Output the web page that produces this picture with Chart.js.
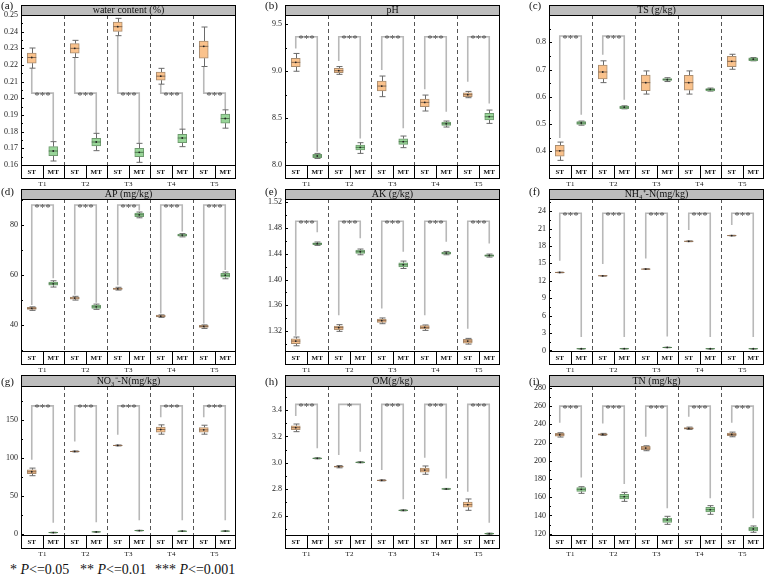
<!DOCTYPE html>
<html><head><meta charset="utf-8">
<script src="https://cdn.jsdelivr.net/npm/chart.js@4.4.1/dist/chart.umd.min.js"></script>
<style>
body{margin:0;width:767px;height:578px;background:#fff;position:relative;overflow:hidden;font-family:"Liberation Serif",serif;}
canvas{position:absolute;left:0;top:0;pointer-events:none;}
#legend{position:absolute;left:0;top:562px;font-size:14px;color:#111;font-family:"Liberation Serif",serif;}
#legend span{position:absolute;white-space:nowrap;top:0;}
</style></head><body>
<div id="legend"><span style="left:10px">* <i>P</i>&lt;=0.05</span><span style="left:80px">** <i>P</i>&lt;=0.01</span><span style="left:155px">*** <i>P</i>&lt;=0.001</span></div>
<script>
// ---------- categories ----------
const groups = ['T1','T2','T3','T4','T5'];
const cells = ['ST','MT'];

// ---------- (a) water content: [min, q1, median, q3, max] ----------
const wcST = [[0.2181,0.2211,0.2245,0.2271,0.2302],[0.2245,0.2271,0.2300,0.2328,0.2348],[0.2376,0.2402,0.2430,0.2458,0.2480],[0.2085,0.2109,0.2133,0.2157,0.2180],[0.2191,0.2241,0.2312,0.2344,0.2428]];
const wcMT = [[0.1624,0.1656,0.1684,0.1710,0.1740],[0.1686,0.1714,0.1738,0.1760,0.1790],[0.1616,0.1650,0.1676,0.1700,0.1730],[0.1710,0.1734,0.1762,0.1784,0.1815],[0.1821,0.1851,0.1879,0.1905,0.1931]];
const wcBracket = [0.2031,0.2031,0.2031,0.2031,0.2031];
const wcLegST = [0.2181,0.2245,0.2376,0.2085,0.2191];
const wcLegMT = [0.1740,0.1790,0.1730,0.1815,0.1931];
const wcSig = ['***','***','***','***','***'];
const wcTicks = ['0.16','0.17','0.18','0.19','0.20','0.21','0.22','0.23','0.24','0.25'];

// ---------- (b) pH ----------
const phST = [[9.000,9.050,9.095,9.137,9.190],[8.967,8.985,9.006,9.030,9.050],[8.729,8.789,8.842,8.896,8.949],[8.576,8.622,8.668,8.704,8.746],[8.718,8.729,8.750,8.771,8.785]];
const phMT = [[8.070,8.078,8.096,8.114,8.124],[8.124,8.160,8.188,8.213,8.238],[8.185,8.220,8.249,8.280,8.309],[8.405,8.423,8.440,8.458,8.469],[8.444,8.480,8.515,8.551,8.586]];
const phBracket = [9.368,9.368,9.368,9.368,9.368];
const phLegST = [9.244,9.109,9.013,8.807,8.889];
const phLegMT = [8.142,8.284,8.391,8.569,8.657];
const phSig = ['***','***','***','***','***'];
const phTicks = ['8.0','8.5','9.0','9.5'];

// ---------- (c) TS ----------
const tsST = [[0.367,0.382,0.402,0.422,0.434],[0.652,0.666,0.691,0.716,0.732],[0.610,0.623,0.652,0.680,0.695],[0.610,0.624,0.652,0.679,0.695],[0.701,0.711,0.730,0.748,0.756]];
const tsMT = [[0.496,0.499,0.504,0.509,0.511],[0.556,0.557,0.562,0.566,0.567],[0.656,0.660,0.663,0.667,0.670],[0.621,0.622,0.627,0.630,0.632],[0.732,0.733,0.738,0.743,0.744]];
const tsBracket = [0.823,0.823,null,null,null];
const tsLegST = [0.449,0.754,null,null,null];
const tsLegMT = [0.534,0.589,null,null,null];
const tsSig = ['***','***','','',''];
const tsTicks = ['0.4','0.5','0.6','0.7','0.8'];

// ---------- (d) AP ----------
const apST = [[45.9,46.3,46.7,47.1,47.3],[50.0,50.4,50.8,51.2,51.5],[54.0,54.3,54.5,54.8,55.1],[43.1,43.3,43.6,44.0,44.1],[38.7,39.1,39.5,39.9,40.1]];
const apMT = [[55.2,55.9,56.5,57.2,57.7],[46.3,46.7,47.3,48.0,48.4],[82.8,83.3,84.0,84.7,85.1],[75.2,75.5,75.9,76.3,76.5],[58.5,59.1,59.9,60.7,61.2]];
const apBracket = [87.9,87.9,87.9,87.9,87.9];
const apLegST = [48.0,52.1,55.9,44.7,40.7];
const apLegMT = [58.7,48.9,85.7,77.3,62.0];
const apSig = ['***','***','***','***','***'];
const apTicks = ['40','60','80'];

// ---------- (e) AK ----------
const akST = [[1.2971,1.3003,1.3044,1.3080,1.3107],[1.3195,1.3221,1.3252,1.3278,1.3299],[1.3314,1.3335,1.3361,1.3387,1.3403],[1.3210,1.3231,1.3257,1.3283,1.3294],[1.2997,1.3013,1.3044,1.3071,1.3086]];
const akMT = [[1.4530,1.4540,1.4556,1.4571,1.4582],[1.4384,1.4405,1.4431,1.4457,1.4473],[1.4171,1.4197,1.4229,1.4260,1.4286],[1.4384,1.4395,1.4410,1.4426,1.4436],[1.4348,1.4358,1.4374,1.4384,1.4395]];
const akBracket = [1.4904,1.4904,1.4904,1.4904,1.4904];
const akLegST = [1.3125,1.3444,1.3548,1.3444,1.3236];
const akLegMT = [1.4732,1.4639,1.4431,1.4587,1.4561];
const akSig = ['***','***','***','***','***'];
const akTicks = ['1.32','1.36','1.40','1.44','1.48','1.52'];

// ---------- (f) NH4+-N ----------
const nhST = [[13.39,13.42,13.44,13.46,13.49],[12.81,12.84,12.86,12.88,12.91],[13.97,14.00,14.02,14.04,14.07],[18.75,18.78,18.81,18.84,18.87],[19.74,19.77,19.79,19.81,19.84]];
const nhMT = [[0.25,0.27,0.29,0.31,0.33],[0.26,0.28,0.30,0.32,0.34],[0.47,0.49,0.51,0.53,0.55],[0.25,0.27,0.29,0.31,0.33],[0.25,0.27,0.29,0.31,0.33]];
const nhBracket = [23.65,23.65,23.65,23.65,23.65];
const nhLegST = [15.46,14.88,15.86,20.77,21.63];
const nhLegMT = [2.30,2.30,2.42,2.30,2.30];
const nhSig = ['***','***','***','***','***'];
const nhTicks = ['0','3','6','9','12','15','18','21','24'];

// ---------- (g) NO3--N ----------
const noST = [[77.0,79.6,82.2,84.8,87.0],[108.3,108.6,108.9,109.2,109.5],[116.2,116.5,116.8,117.1,117.4],[131.6,134.3,137.8,140.8,143.9],[131.6,134.3,137.3,140.4,143.4]];
const noMT = [[1.8,2.0,2.2,2.4,2.6],[2.7,2.9,3.1,3.3,3.5],[4.4,4.6,4.8,5.0,5.2],[3.6,3.8,4.0,4.2,4.4],[3.7,3.9,4.1,4.3,4.5]];
const noBracket = [168.8,168.8,168.8,168.8,168.8];
const noLegST = [98.0,122.0,130.8,154.0,154.0];
const noLegMT = [15.0,15.8,18.4,18.4,18.4];
const noSig = ['***','***','***','***','***'];
const noTicks = ['0','50','100','150'];

// ---------- (h) OM ----------
const omST = [[3.236,3.251,3.266,3.281,3.294],[2.962,2.967,2.971,2.975,2.979],[2.863,2.865,2.867,2.869,2.871],[2.913,2.930,2.945,2.961,2.976],[2.640,2.663,2.683,2.703,2.726]];
const omMT = [[3.030,3.032,3.034,3.036,3.038],[3.000,3.002,3.004,3.006,3.008],[2.636,2.638,2.640,2.642,2.644],[2.798,2.800,2.802,2.804,2.806],[2.459,2.461,2.463,2.465,2.467]];
const omBracket = [3.443,3.443,3.443,3.443,3.443];
const omLegST = [3.355,3.059,2.945,3.039,2.781];
const omLegMT = [3.110,3.084,2.723,2.882,2.546];
const omSig = ['***','*','***','***','***'];
const omTicks = ['2.6','2.8','3.0','3.2','3.4'];

// ---------- (i) TN ----------
const tnST = [[226.0,227.0,228.5,230.0,230.7],[227.8,228.1,228.9,229.6,230.0],[211.0,212.0,213.9,215.7,216.4],[234.3,234.7,235.4,236.5,236.9],[226.3,227.4,228.9,230.3,231.4]];
const tnMT = [[164.2,166.4,168.6,170.4,171.5],[155.4,158.0,160.5,163.1,165.3],[130.2,132.4,135.0,137.2,139.0],[141.2,143.7,146.3,148.9,150.7],[121.5,122.9,125.1,127.3,128.4]];
const tnBracket = [259.9,259.9,259.9,259.9,259.9];
const tnLegST = [241.6,240.9,226.3,248.2,241.6];
const tnLegMT = [181.7,174.4,147.8,158.7,136.8];
const tnSig = ['***','***','***','***','***'];
const tnTicks = ['120','140','160','180','200','220','240','260','280'];

// ---------- panels ----------
const panels = [
  {tag:'(a)', title:'water content (%)', st:wcST, mt:wcMT, br:wcBracket, legST:wcLegST, legMT:wcLegMT, sig:wcSig, ticks:wcTicks, min:0.16, max:0.25},
  {tag:'(b)', title:'pH', st:phST, mt:phMT, br:phBracket, legST:phLegST, legMT:phLegMT, sig:phSig, ticks:phTicks, min:8.0, max:9.6},
  {tag:'(c)', title:'TS (g/kg)', st:tsST, mt:tsMT, br:tsBracket, legST:tsLegST, legMT:tsLegMT, sig:tsSig, ticks:tsTicks, min:0.35, max:0.9},
  {tag:'(d)', title:'AP (mg/kg)', st:apST, mt:apMT, br:apBracket, legST:apLegST, legMT:apLegMT, sig:apSig, ticks:apTicks, min:29.7, max:90.3},
  {tag:'(e)', title:'AK (g/kg)', st:akST, mt:akMT, br:akBracket, legST:akLegST, legMT:akLegMT, sig:akSig, ticks:akTicks, min:1.289, max:1.525},
  {tag:'(f)', title:'NH\u2084\u207A-N(mg/kg)', st:nhST, mt:nhMT, br:nhBracket, legST:nhLegST, legMT:nhLegMT, sig:nhSig, ticks:nhTicks, min:-0.1, max:26.1},
  {tag:'(g)', title:'NO\u2083\u207B-N(mg/kg)', st:noST, mt:noMT, br:noBracket, legST:noLegST, legMT:noLegMT, sig:noSig, ticks:noTicks, min:-1, max:195},
  {tag:'(h)', title:'OM(g/kg)', st:omST, mt:omMT, br:omBracket, legST:omLegST, legMT:omLegMT, sig:omSig, ticks:omTicks, min:2.453, max:3.582},
  {tag:'(i)', title:'TN (mg/kg)', st:tnST, mt:tnMT, br:tnBracket, legST:tnLegST, legMT:tnLegMT, sig:tnSig, ticks:tnTicks, min:118.5, max:282}
];

// ---------- layout (styling only) ----------
const colLeft = [21, 285, 549];
const plotW = 215;
const rowTop = [15, 199, 386];
const rowBottom = [165, 351, 535];
const titleTop = [5, 189, 375];
const tagY = [6, 192, 382];
const YW = 20;
const SERIF = '"Liberation Serif", "Times New Roman", serif';
const ST_FILL = '#FAC28C', ST_EDGE = '#A88C70';
const MT_FILL = '#98D598', MT_EDGE = '#6F9A6F';

function panelPlugin(p, row) {
  return {
    id: 'boxextras',
    beforeDatasetsDraw(chart) {
      const ctx = chart.ctx, xs = chart.scales.x, ys = chart.scales.y, a = chart.chartArea;
      ctx.save();
      // dashed group separators
      ctx.strokeStyle = '#555'; ctx.lineWidth = 1; ctx.setLineDash([4, 3]);
      for (let k = 1; k < groups.length; k++) {
        const px = Math.round(xs.getPixelForValue(2 * k - 0.5)) + 0.5;
        ctx.beginPath(); ctx.moveTo(px, a.top); ctx.lineTo(px, a.bottom); ctx.stroke();
      }
      ctx.setLineDash([]);
      // significance brackets
      ctx.strokeStyle = '#B8B8B8'; ctx.lineWidth = 1.6;
      groups.forEach((g, gi) => {
        if (p.br[gi] == null) return;
        const x1 = xs.getPixelForValue(2 * gi), x2 = xs.getPixelForValue(2 * gi + 1);
        const yb = ys.getPixelForValue(p.br[gi]);
        ctx.beginPath();
        ctx.moveTo(x1, ys.getPixelForValue(p.legST[gi]));
        ctx.lineTo(x1, yb); ctx.lineTo(x2, yb);
        ctx.lineTo(x2, ys.getPixelForValue(p.legMT[gi]));
        ctx.stroke();
      });
      // whiskers
      ctx.strokeStyle = '#6a6a6a'; ctx.lineWidth = 1;
      [p.st, p.mt].forEach((ser, si) => {
        ser.forEach((s, gi) => {
          const cx = Math.round(xs.getPixelForValue(2 * gi + si)) + 0.5;
          const yMin = ys.getPixelForValue(s[0]), yQ1 = ys.getPixelForValue(s[1]);
          const yQ3 = ys.getPixelForValue(s[3]), yMax = ys.getPixelForValue(s[4]);
          ctx.beginPath();
          ctx.moveTo(cx, yMax); ctx.lineTo(cx, yQ3);
          ctx.moveTo(cx, yQ1); ctx.lineTo(cx, yMin);
          ctx.moveTo(cx - 3, yMax); ctx.lineTo(cx + 3, yMax);
          ctx.moveTo(cx - 3, yMin); ctx.lineTo(cx + 3, yMin);
          ctx.stroke();
        });
      });
      ctx.restore();
    },
    afterDatasetsDraw(chart) {
      const ctx = chart.ctx, xs = chart.scales.x, ys = chart.scales.y, a = chart.chartArea;
      ctx.save();
      // medians and mean dots
      [p.st, p.mt].forEach((ser, si) => {
        ser.forEach((s, gi) => {
          const cx = xs.getPixelForValue(2 * gi + si);
          const ym = ys.getPixelForValue(s[2]);
          ctx.strokeStyle = si === 0 ? '#8a6a50' : '#4f7a4f'; ctx.lineWidth = 1;
          ctx.beginPath(); ctx.moveTo(cx - 4.5, ym); ctx.lineTo(cx + 4.5, ym); ctx.stroke();
          ctx.fillStyle = '#222';
          ctx.beginPath(); ctx.arc(cx, ym, 0.9, 0, Math.PI * 2); ctx.fill();
        });
      });
      // significance stars
      ctx.fillStyle = '#4a4a4a'; ctx.font = '11px ' + SERIF; ctx.textAlign = 'center'; ctx.textBaseline = 'alphabetic';
      groups.forEach((g, gi) => {
        if (p.br[gi] == null || !p.sig[gi]) return;
        const xm = xs.getPixelForValue(2 * gi + 0.5);
        ctx.fillText(p.sig[gi], xm, ys.getPixelForValue(p.br[gi]) + 5.5);
      });
      ctx.textBaseline = 'middle';
      // frame
      ctx.strokeStyle = '#000'; ctx.lineWidth = 1;
      ctx.strokeRect(Math.round(a.left) + 0.5, Math.round(a.top) + 0.5, Math.round(a.right - a.left) - 1, Math.round(a.bottom - a.top));
      // inward ticks (major + minor)
      const tv = p.ticks.map(Number);
      const step = tv[1] - tv[0];
      ctx.beginPath();
      tv.forEach(v => { const py = Math.round(ys.getPixelForValue(v)) + 0.5; ctx.moveTo(a.left, py); ctx.lineTo(a.left + 3, py); });
      for (let v = tv[0] - step / 2; v <= p.max + 1e-9; v += step) {
        if (v < p.min) continue;
        const py = Math.round(ys.getPixelForValue(v)) + 0.5; ctx.moveTo(a.left, py); ctx.lineTo(a.left + 2, py);
      }
      ctx.stroke();
      // title bar
      const tt = titleTop[row];
      ctx.fillStyle = '#BDBDBD';
      ctx.fillRect(a.left, tt, a.right - a.left, a.top - tt);
      ctx.strokeRect(Math.round(a.left) + 0.5, tt + 0.5, Math.round(a.right - a.left) - 1, Math.round(a.top - tt));
      ctx.fillStyle = '#111'; ctx.font = '10px ' + SERIF; ctx.textAlign = 'center'; ctx.textBaseline = 'middle';
      ctx.fillText(p.title, (a.left + a.right) / 2, (tt + a.top) / 2 + 0.5);
      // panel tag
      ctx.font = '11px ' + SERIF; ctx.textAlign = 'left';
      ctx.fillText(p.tag, a.left - 20, tagY[row]);
      // strip with ST / MT
      const sb = a.bottom + 13.5;
      ctx.strokeRect(Math.round(a.left) + 0.5, Math.round(a.bottom) + 0.5, Math.round(a.right - a.left) - 1, 13);
      ctx.beginPath();
      for (let i = 0; i < 9; i++) {
        const px = Math.round(xs.getPixelForValue(i + 0.5)) + 0.5;
        ctx.moveTo(px, a.bottom); ctx.lineTo(px, sb);
      }
      ctx.stroke();
      ctx.font = 'bold 7px ' + SERIF; ctx.textAlign = 'center';
      for (let i = 0; i < 10; i++) ctx.fillText(cells[i % 2], xs.getPixelForValue(i), a.bottom + 7.2);
      ctx.font = '7px ' + SERIF;
      groups.forEach((g, gi) => ctx.fillText(g, xs.getPixelForValue(2 * gi + 0.5), a.bottom + 19));
      ctx.restore();
    }
  };
}

panels.forEach((p, idx) => {
  const col = idx % 3, row = Math.floor(idx / 3);
  const L = colLeft[col], T = rowTop[row], B = rowBottom[row];
  const canvas = document.createElement('canvas');
  canvas.width = 767; canvas.height = 578;
  canvas.style.width = '767px'; canvas.style.height = '578px';
  document.body.appendChild(canvas);
  const labels = [];
  groups.forEach(g => cells.forEach(c => labels.push(g + ' ' + c)));
  const stData = labels.map((_, i) => i % 2 === 0 ? [p.st[i >> 1][1], p.st[i >> 1][3]] : null);
  const mtData = labels.map((_, i) => i % 2 === 1 ? [p.mt[i >> 1][1], p.mt[i >> 1][3]] : null);
  const tickVals = p.ticks.map(Number);
  new Chart(canvas, {
    type: 'bar',
    data: {
      labels,
      datasets: [
        {label: 'ST', data: stData, backgroundColor: ST_FILL, borderColor: ST_EDGE, borderWidth: 1, borderSkipped: false, barThickness: 9, grouped: false},
        {label: 'MT', data: mtData, backgroundColor: MT_FILL, borderColor: MT_EDGE, borderWidth: 1, borderSkipped: false, barThickness: 9, grouped: false}
      ]
    },
    options: {
      responsive: false, animation: false, devicePixelRatio: 1,
      layout: {padding: {left: L - YW, right: 767 - (L + plotW), top: T, bottom: 578 - B}},
      plugins: {legend: {display: false}, tooltip: {enabled: false}, title: {display: false}},
      scales: {
        x: {display: false},
        y: {
          min: p.min, max: p.max,
          afterFit(s) { s.width = YW; },
          afterBuildTicks(s) { s.ticks = tickVals.map(v => ({value: v})); },
          ticks: {callback: (v, i) => p.ticks[i], font: {family: SERIF, size: 8}, color: '#222', padding: 3, autoSkip: false},
          grid: {display: false, drawTicks: false},
          border: {display: true, color: '#000', width: 1}
        }
      }
    },
    plugins: [panelPlugin(p, row)]
  });
});
</script>
</body></html>
